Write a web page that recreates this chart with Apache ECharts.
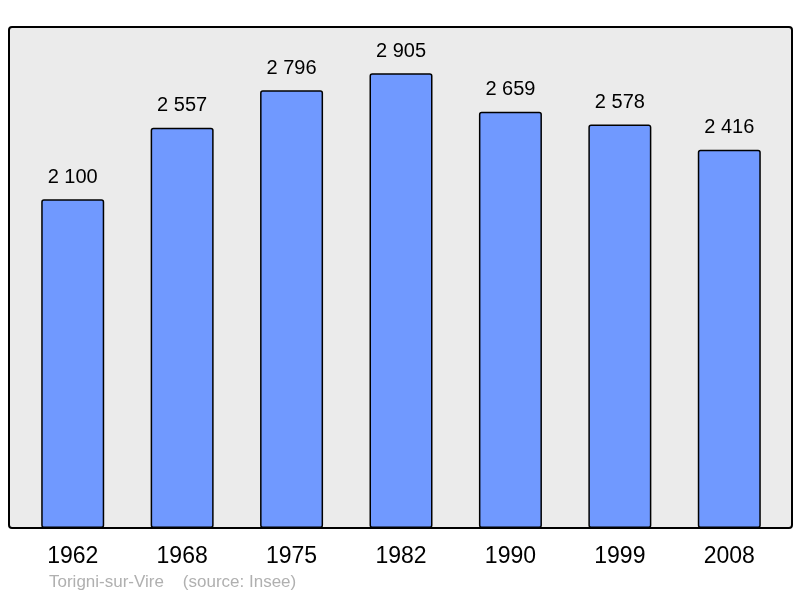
<!DOCTYPE html>
<html>
<head>
<meta charset="utf-8">
<script src="https://cdn.jsdelivr.net/npm/echarts@6/dist/echarts.min.js"></script>
<style>
  html, body { margin: 0; padding: 0; background: #fff; }
  #chartmain { width: 800px; height: 598px; }
</style>
</head>
<body>
<div id="chartmain"></div>
<script>
var years = ['1962', '1968', '1975', '1982', '1990', '1999', '2008'];
var population = [2100, 2557, 2796, 2905, 2659, 2578, 2416];
var footer = 'Torigni-sur-Vire    (source: Insee)';

function fmt(v) {
	return String(v).replace(/\B(?=(\d{3})+(?!\d))/g, ' ');
}

var option = {
	animation: false,
	textStyle: { fontFamily: 'Liberation Sans, Arial, sans-serif' },
	graphic: [{
		type: 'rect',
		z: -10,
		shape: { x: 9, y: 27, width: 783, height: 501, r: 3 },
		style: { fill: '#ebebeb', stroke: '#000', lineWidth: 2 }
	}, {
		type: 'text',
		left: 49,
		top: 574,
		style: {
			text: footer,
			fill: '#b0b0b0',
			font: '17px Liberation Sans, Arial, sans-serif'
		}
	}],
	grid: {
		left: 18,
		right: 16,
		top: 27,
		bottom: 70
	},
	xAxis: {
		type: 'category',
		data: years,
		axisLine: { show: false },
		axisTick: { show: false },
		axisLabel: {
			color: '#000',
			fontSize: 23,
			margin: 17
		}
	},
	yAxis: {
		type: 'value',
		min: 0,
		max: 3200,
		show: false,
		splitLine: { show: false }
	},
	series: [{
		type: 'bar',
		data: population,
		barWidth: 63,
		itemStyle: {
			color: '#7099ff',
			borderColor: '#000',
			borderWidth: 1.5,
			borderRadius: 2
		},
		label: {
			show: true,
			position: 'top',
			distance: 12,
			color: '#000',
			fontSize: 20,
			formatter: function(p) { return fmt(p.value); }
		}
	}]
};

var myChart = echarts.init(document.getElementById('chartmain'));
myChart.setOption(option);
</script>
</body>
</html>
